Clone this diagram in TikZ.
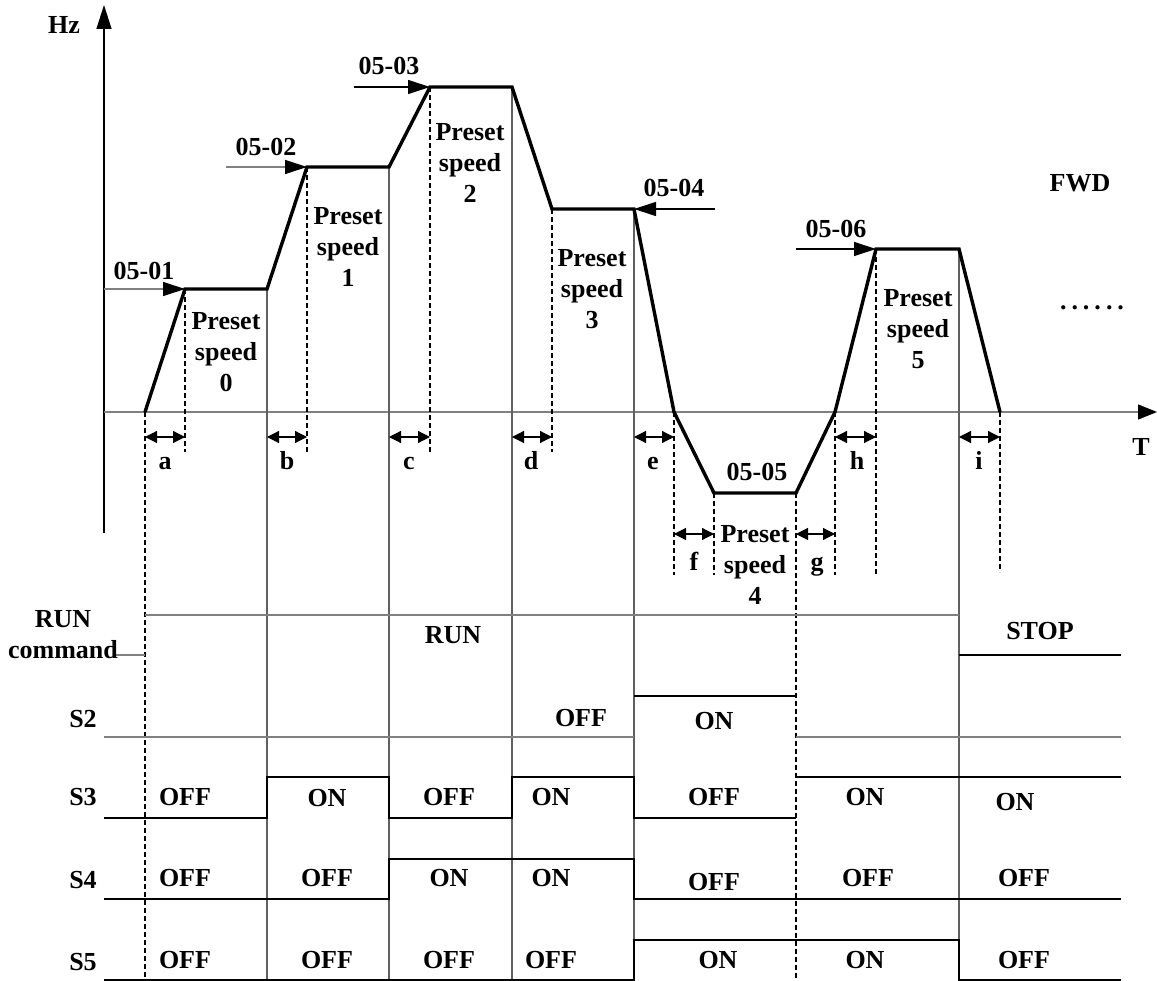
\documentclass[tikz,border=0pt]{standalone}
\usepackage{fontspec}
\setmainfont{Liberation Serif}
\usetikzlibrary{arrows.meta}
\definecolor{lgray}{HTML}{808080}
\definecolor{vgray}{HTML}{606060}
\begin{document}
\begin{tikzpicture}[x=1pt,y=-1pt,
  lbl/.style={font=\fontsize{26}{31}\selectfont\bfseries, inner sep=0pt, align=center},
  trace/.style={line width=3.4pt, line join=miter, line cap=butt},
  grid/.style={line width=1.3pt, vgray},
  hgray/.style={line width=1.3pt, lgray},
  sig/.style={line width=1.2pt, black},
  dline/.style={line width=1.2pt, dash pattern=on 5pt off 3pt},
  axisarr/.style={line width=1.3pt, -{Triangle[length=24pt,width=15pt]}},
  lvl/.style={line width=1.2pt, -{Triangle[length=22pt,width=14pt]}},
  lvlg/.style={line width=1.2pt, lgray, -{Triangle[length=22pt,width=14pt,color=black,fill=black]}},
  dbl/.style={line width=1.2pt, {Triangle[length=12pt,width=12pt]}-{Triangle[length=12pt,width=12pt]}}
]
\useasboundingbox (0,0) rectangle (1157,981);
% axes
\coordinate (O) at (104,412);
\coordinate (Ytop) at (104,5);
\coordinate (Ybot) at (104,533);
\coordinate (Tend) at (1157,412);
\draw[axisarr] (Ybot) -- (Ytop);
\draw[line width=1.3pt, lgray, -{Triangle[length=19pt,width=15pt,color=black,fill=black]}] (O) -- (Tend);
\node[lbl] (hz) at (64,25) {Hz};
\node[lbl] (tl) at (1141,447) {T};
\node[lbl] (fwd) at (1080,183) {FWD};
\node[lbl] (dots) at (1092,308) {.\kern5pt.\kern5pt.\kern5pt.\kern5pt.\kern5pt.};
% trace points
\coordinate (p0) at (145,412);
\coordinate (p1) at (185,289);
\coordinate (p2) at (267,289);
\coordinate (p3) at (307,167);
\coordinate (p4) at (389,167);
\coordinate (p5) at (430,87);
\coordinate (p6) at (512,87);
\coordinate (p7) at (552,209);
\coordinate (p8) at (634,209);
\coordinate (p9) at (674,412);
\coordinate (p10) at (714,493);
\coordinate (p11) at (796,493);
\coordinate (p12) at (835,412);
\coordinate (p13) at (876,249);
\coordinate (p14) at (959,249);
\coordinate (p15) at (1000,412);
% solid verticals
\foreach \p/\n in {p2/267,p4/389,p6/512,p8/634,p14/959}{
  \coordinate (b\n) at (\n,980);
  \draw[grid] (\p) -- (b\n);
}
% dashed verticals
\coordinate (d145) at (145,980);
\coordinate (d185) at (185,452);
\coordinate (d307) at (307,452);
\coordinate (d430) at (430,452);
\coordinate (d552) at (552,452);
\coordinate (d674) at (674,575);
\coordinate (d714) at (714,575);
\coordinate (d796) at (796,980);
\coordinate (d835) at (835,575);
\coordinate (d876) at (876,575);
\coordinate (d1000) at (1000,572);
\draw[dline] (p0) -- (d145);
\draw[dline] (p1) -- (d185);
\draw[dline] (p3) -- (d307);
\draw[dline] (p5) -- (d430);
\draw[dline] (p7) -- (d552);
\draw[dline] (p9) -- (d674);
\draw[dline] (p10) -- (d714);
\draw[dline] (p11) -- (d796);
\draw[dline] (p12) -- (d835);
\draw[dline] (p13) -- (d876);
\draw[dline] (p15) -- (d1000);
% trace
\draw[trace] (p0) -- (p1) -- (p2) -- (p3) -- (p4) -- (p5) -- (p6) -- (p7) -- (p8) -- (p9) -- (p10) -- (p11) -- (p12) -- (p13) -- (p14) -- (p15);
% level arrows
\coordinate (s1) at (104,289);
\coordinate (s2) at (226,167);
\coordinate (s3) at (354,87);
\coordinate (s4) at (715,209);
\coordinate (s6) at (796,249);
\draw[lvlg] (s1) -- (p1);
\draw[lvlg] (s2) -- (p3);
\draw[lvl] (s3) -- (p5);
\draw[lvl] (s4) -- (p8);
\draw[lvl] (s6) -- (p13);
\node[lbl] (l01) at (144,271) {05-01};
\node[lbl] (l02) at (266,147) {05-02};
\node[lbl] (l03) at (389,66) {05-03};
\node[lbl] (l04) at (674,188) {05-04};
\node[lbl] (l05) at (757,472) {05-05};
\node[lbl] (l06) at (836,229) {05-06};
% preset speed labels
\node[lbl] (ps0) at (226,352) {Preset\\speed\\0};
\node[lbl] (ps1) at (348,247) {Preset\\speed\\1};
\node[lbl] (ps2) at (470,163) {Preset\\speed\\2};
\node[lbl] (ps3) at (592,289) {Preset\\speed\\3};
\node[lbl] (ps4) at (755,565) {Preset\\speed\\4};
\node[lbl] (ps5) at (918,329) {Preset\\speed\\5};
% interval arrows
\foreach \a/\b/\n in {145/185/a,267/307/b,389/430/c,512/552/d,634/674/e,835/876/h,959/1000/i}{
  \coordinate (ia\n) at (\a,437);
  \coordinate (ib\n) at (\b,437);
  \draw[dbl] (ia\n) -- (ib\n);
}
\foreach \a/\b/\n in {674/714/f,796/835/g}{
  \coordinate (ia\n) at (\a,534);
  \coordinate (ib\n) at (\b,534);
  \draw[dbl] (ia\n) -- (ib\n);
}
\foreach \x/\n in {165/a,287/b,409/c,531/d,653/e,857/h,979/i}{
  \node[lbl, anchor=base] (t\n) at (\x,470) {\n};
}
\node[lbl, anchor=base] (tf) at (694,570) {f};
\node[lbl, anchor=base] (tg) at (817,570) {g};
% RUN command signal
\coordinate (r0) at (115,655);
\coordinate (r1) at (145,655);
\coordinate (r2) at (145,615);
\coordinate (r3) at (959,615);
\coordinate (r4) at (959,655);
\coordinate (r5) at (1121,655);
\draw[hgray] (r0) -- (r1);
\draw[hgray] (r2) -- (r3);
\draw[sig] (r4) -- (r5);
% S2
\coordinate (a0) at (104,737);
\coordinate (a1) at (634,737);
\coordinate (a2) at (634,696);
\coordinate (a3) at (796,696);
\coordinate (a4) at (796,737);
\coordinate (a5) at (1121,737);
\draw[hgray] (a0) -- (a1);
\draw[sig] (a2) -- (a3);
\draw[hgray] (a4) -- (a5);
% S3
\coordinate (c0) at (104,818);
\coordinate (c1) at (267,818);
\coordinate (c2) at (267,777);
\coordinate (c3) at (389,777);
\coordinate (c4) at (389,818);
\coordinate (c5) at (512,818);
\coordinate (c6) at (512,777);
\coordinate (c7) at (634,777);
\coordinate (c8) at (634,818);
\coordinate (c9) at (796,818);
\coordinate (c10) at (796,777);
\coordinate (c11) at (1121,777);
\draw[sig] (c0) -- (c1) -- (c2) -- (c3) -- (c4) -- (c5) -- (c6) -- (c7) -- (c8) -- (c9);
\draw[sig] (c10) -- (c11);
% S4
\coordinate (e0) at (104,899);
\coordinate (e1) at (389,899);
\coordinate (e2) at (389,859);
\coordinate (e3) at (634,859);
\coordinate (e4) at (634,899);
\coordinate (e5) at (1121,899);
\draw[sig] (e0) -- (e1) -- (e2) -- (e3) -- (e4) -- (e5);
% S5
\coordinate (f0) at (104,980);
\coordinate (f1) at (634,980);
\coordinate (f2) at (634,940);
\coordinate (f3) at (959,940);
\coordinate (f4) at (959,980);
\coordinate (f5) at (1121,980);
\draw[sig] (f0) -- (f1) -- (f2) -- (f3) -- (f4) -- (f5);
% signal names
\node[lbl] (runcmd) at (63,635) {RUN\\command};
\node[lbl] (ns2) at (83,719) {S2};
\node[lbl] (ns3) at (83,797) {S3};
\node[lbl] (ns4) at (83,880) {S4};
\node[lbl] (ns5) at (83,962) {S5};
\node[lbl] (run) at (453,635) {RUN};
\node[lbl] (stop) at (1040,631) {STOP};
% state labels
\node[lbl] (s2a) at (581,718) {OFF};
\node[lbl] (s2b) at (714,721) {ON};
\node[lbl] (s3a) at (185,797) {OFF};
\node[lbl] (s3b) at (327,798) {ON};
\node[lbl] (s3c) at (449,797) {OFF};
\node[lbl] (s3d) at (551,797) {ON};
\node[lbl] (s3e) at (714,797) {OFF};
\node[lbl] (s3f) at (865,797) {ON};
\node[lbl] (s3g) at (1015,802) {ON};
\node[lbl] (s4a) at (185,878) {OFF};
\node[lbl] (s4b) at (327,878) {OFF};
\node[lbl] (s4c) at (449,878) {ON};
\node[lbl] (s4d) at (551,878) {ON};
\node[lbl] (s4e) at (714,882) {OFF};
\node[lbl] (s4f) at (868,878) {OFF};
\node[lbl] (s4g) at (1024,878) {OFF};
\node[lbl] (s5a) at (185,960) {OFF};
\node[lbl] (s5b) at (327,960) {OFF};
\node[lbl] (s5c) at (449,960) {OFF};
\node[lbl] (s5d) at (551,960) {OFF};
\node[lbl] (s5e) at (718,960) {ON};
\node[lbl] (s5f) at (865,960) {ON};
\node[lbl] (s5g) at (1024,960) {OFF};
\end{tikzpicture}
\end{document}
